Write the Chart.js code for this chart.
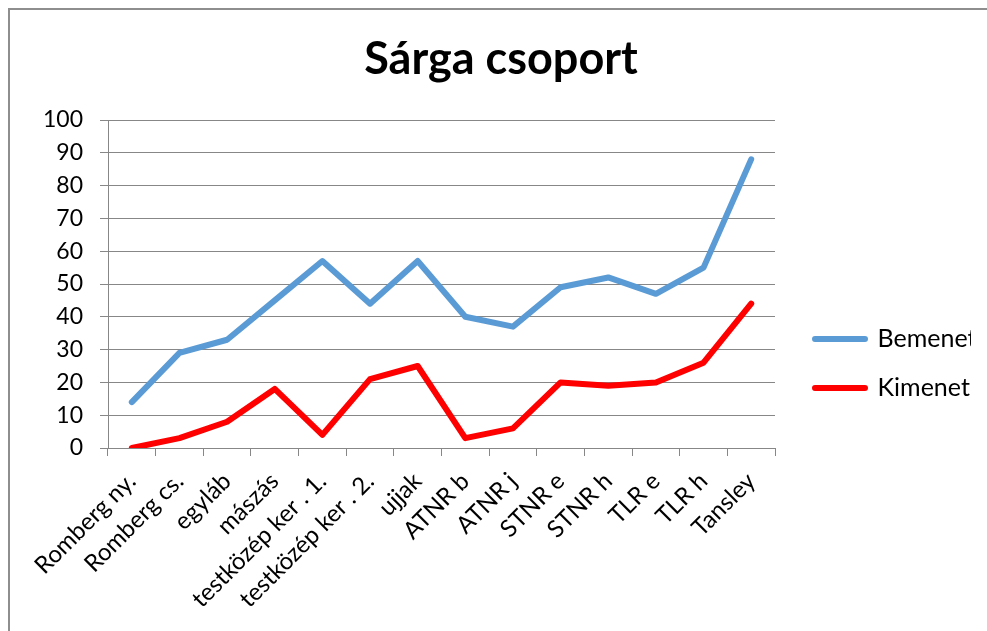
<!DOCTYPE html>
<html>
<head>
<meta charset="utf-8">
<script src="https://cdn.jsdelivr.net/npm/chart.js@4.4.1/dist/chart.umd.min.js"></script>
<style>
  html, body { margin: 0; padding: 0; background: #ffffff; }
  #wrap { position: relative; width: 987px; height: 631px; overflow: hidden; background: #ffffff; }
  #frame { position: absolute; left: 8px; top: 8px; width: 1200px; height: 900px;
           border-left: 2px solid #8e8e8e; border-top: 2px solid #8e8e8e; box-sizing: border-box; }
  #c { position: absolute; left: 0; top: 0; }
</style>
</head>
<body>
<div id="wrap">
  <div id="frame"></div>
  <canvas id="c" width="987" height="631"></canvas>
</div>
<script>
const chartTitle = 'Sárga csoport';
const categories = ['Romberg ny.', 'Romberg cs.', 'egyláb', 'mászás', 'testközép ker . 1.', 'testközép ker . 2.', 'ujjak', 'ATNR b', 'ATNR j', 'STNR e', 'STNR h', 'TLR e', 'TLR h', 'Tansley'];
const seriesNames = ['Bemenet', 'Kimenet'];
const bemenet = [14, 29, 33, 45, 57, 44, 57, 40, 37, 49, 52, 47, 55, 88];
const kimenet = [0, 3, 8, 18, 4, 21, 25, 3, 6, 20, 19, 20, 26, 44];
const yMin = 0, yMax = 100, yStep = 10;

const FONT = 'Lato, "Liberation Sans", sans-serif';
const GRID = '#878787';

new Chart(document.getElementById('c'), {
  type: 'line',
  data: {
    labels: categories,
    datasets: [
      { label: seriesNames[0], data: bemenet, borderColor: '#5B9BD5', backgroundColor: '#5B9BD5',
        borderWidth: 6, pointRadius: 0, tension: 0, borderCapStyle: 'round', borderJoinStyle: 'round' },
      { label: seriesNames[1], data: kimenet, borderColor: '#FF0000', backgroundColor: '#FF0000',
        borderWidth: 6, pointRadius: 0, tension: 0, borderCapStyle: 'round', borderJoinStyle: 'round' }
    ]
  },
  options: {
    responsive: false,
    devicePixelRatio: 1,
    animation: false,
    events: [],
    layout: { padding: { left: 31, right: 16, top: 0, bottom: 0 } },
    plugins: {
      title: {
        display: true, text: chartTitle, color: '#000',
        font: { family: FONT, size: 45, weight: 'bold', lineHeight: 1.2 },
        padding: { top: 32, bottom: 34 }
      },
      legend: {
        display: true, position: 'right', align: 'center', maxWidth: 180,
        title: { display: true, text: ' ', font: { size: 10, lineHeight: 1 }, padding: { top: 43, bottom: 43 } },
        labels: { color: '#000', font: { family: FONT, size: 25 }, boxWidth: 50, boxHeight: 0, padding: 24 }
      },
      tooltip: { enabled: false }
    },
    scales: {
      x: {
        type: 'category', offset: true,
        grid: { display: true, drawOnChartArea: false, drawTicks: true, tickLength: 8, color: GRID, offset: true },
        border: { display: true, color: GRID, width: 1 },
        ticks: { color: '#000', font: { family: FONT, size: 24 }, autoSkip: false, minRotation: 45, maxRotation: 45, padding: 11 },
        afterFit(s) { s.height = 183; }
      },
      y: {
        min: yMin, max: yMax,
        grid: { color: GRID, tickLength: 8, drawTicks: true },
        border: { display: true, color: GRID, width: 1 },
        ticks: { stepSize: yStep, color: '#000', font: { family: FONT, size: 23 }, padding: 17 },
        afterFit(s) { s.width = 77; }
      },
      y2: {
        position: 'right', display: true, min: yMin, max: yMax,
        grid: { display: false, drawTicks: false },
        border: { display: false },
        ticks: { display: false },
        afterFit(s) { s.width = 16; }
      }
    }
  }
});
</script>
</body>
</html>
